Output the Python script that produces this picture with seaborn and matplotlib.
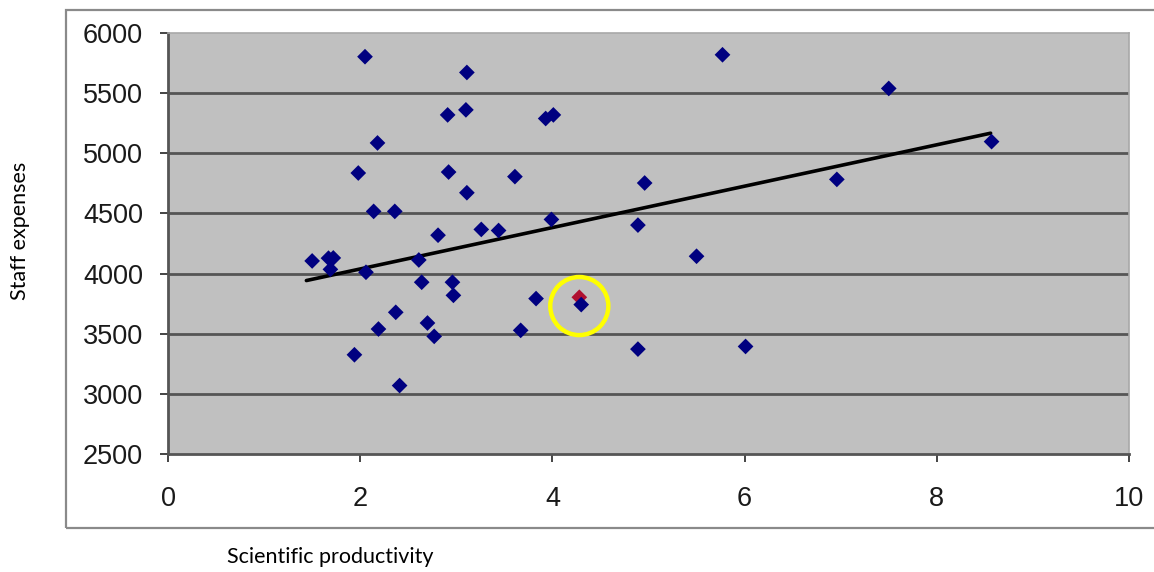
import numpy as np
import pandas as pd
import matplotlib
matplotlib.use("Agg")
import matplotlib.pyplot as plt
import seaborn as sns
from matplotlib.patches import Rectangle

# values
productivity = [1.50, 1.67, 1.72, 1.69, 1.94, 1.98, 2.05, 2.06, 2.14, 2.18,
                2.19, 2.36, 2.37, 2.41, 2.61, 2.64, 2.70, 2.77, 2.81, 2.91,
                2.92, 2.96, 2.97, 3.10, 3.11, 3.11, 3.26, 3.44, 3.61, 3.67,
                3.83, 3.93, 4.01, 3.99, 4.30, 4.89, 4.89, 4.96, 5.50, 5.77,
                6.01, 6.96, 7.50, 8.57]
expenses = [4105, 4128, 4130, 4035, 3325, 4836, 5803, 4011, 4517, 5086,
            3539, 4517, 3678, 3069, 4113, 3928, 3589, 3478, 4319, 5319,
            4844, 3928, 3819, 5361, 5672, 4672, 4367, 4358, 4806, 3528,
            3792, 5289, 5319, 4450, 3742, 4403, 3372, 4753, 4144, 5819,
            3394, 4783, 5539, 5097]

# highlighted observation (red point inside the yellow ring)
highlight_x = [4.28]
highlight_y = [3803]
ring_x = [4.28]
ring_y = [3730]

# trend line as drawn in the original
trend_x = [1.44, 8.56]
trend_y = [3942, 5167]

x_ticks = [0, 2, 4, 6, 8, 10]
y_ticks = [2500, 3000, 3500, 4000, 4500, 5000, 5500, 6000]

df = pd.DataFrame({"productivity": productivity, "expenses": expenses})
trend = pd.DataFrame({"x": trend_x, "y": trend_y})

sns.set_theme(style="white")
plt.rcParams['font.family'] = ['Liberation Sans', 'DejaVu Sans']

fig = plt.figure(figsize=(11.54, 5.72), dpi=100)
ax = fig.add_axes([168 / 1154, 1 - 454 / 572, (1129 - 168) / 1154, (454 - 33) / 572])
ax.set_facecolor("#C0C0C0")

# outer chart frame
fig.patches.append(Rectangle((66 / 1154, 1 - 528 / 572), 1.2, (528 - 10) / 572,
                             transform=fig.transFigure, fill=False,
                             edgecolor="#8a8a8a", linewidth=1.6, zorder=0))

# horizontal gridlines (inner ones only)
for yv in y_ticks[1:-1]:
    ax.axhline(yv, color="#555555", linewidth=2.0, zorder=1)

sns.lineplot(data=trend, x="x", y="y", color="black", linewidth=2.6, ax=ax, zorder=3)

sns.scatterplot(x=highlight_x, y=highlight_y, marker="D", s=64, color="#b01030",
                edgecolor="none", ax=ax, zorder=4)
sns.scatterplot(data=df, x="productivity", y="expenses", marker="D", s=64,
                color="#000080", edgecolor="none", ax=ax, zorder=5)
sns.scatterplot(x=ring_x, y=ring_y, marker="o", s=1750, facecolor="none",
                edgecolor="#FFFF00", linewidth=3.2, ax=ax, zorder=6)

ax.set_xlim(0, 10)
ax.set_ylim(2500, 6000)
ax.set_xticks(x_ticks)
ax.set_yticks(y_ticks)
ax.tick_params(axis="both", direction="out", length=6, width=1.4, color="#444444",
               labelsize=19.5, labelcolor="#1a1a1a")
ax.tick_params(axis="y", pad=12, left=True)
ax.tick_params(axis="x", pad=17, bottom=True)

for side in ["left", "bottom"]:
    ax.spines[side].set_color("#555555")
    ax.spines[side].set_linewidth(2.0)
for side in ["top", "right"]:
    ax.spines[side].set_color("#a8a8a8")
    ax.spines[side].set_linewidth(1.2)

ax.set_xlabel("")
ax.set_ylabel("")

fig.text(330 / 1154, 1 - 557 / 572, "Scientific productivity", family=["Lato", "DejaVu Sans"],
         fontsize=15.5, ha="center", va="center", color="black")
fig.text(20 / 1154, 1 - 231 / 572, "Staff expenses", family=["Lato", "DejaVu Sans"],
         fontsize=15.5, ha="center", va="center", rotation=90, color="black")

fig.savefig("out.png", dpi=100)
